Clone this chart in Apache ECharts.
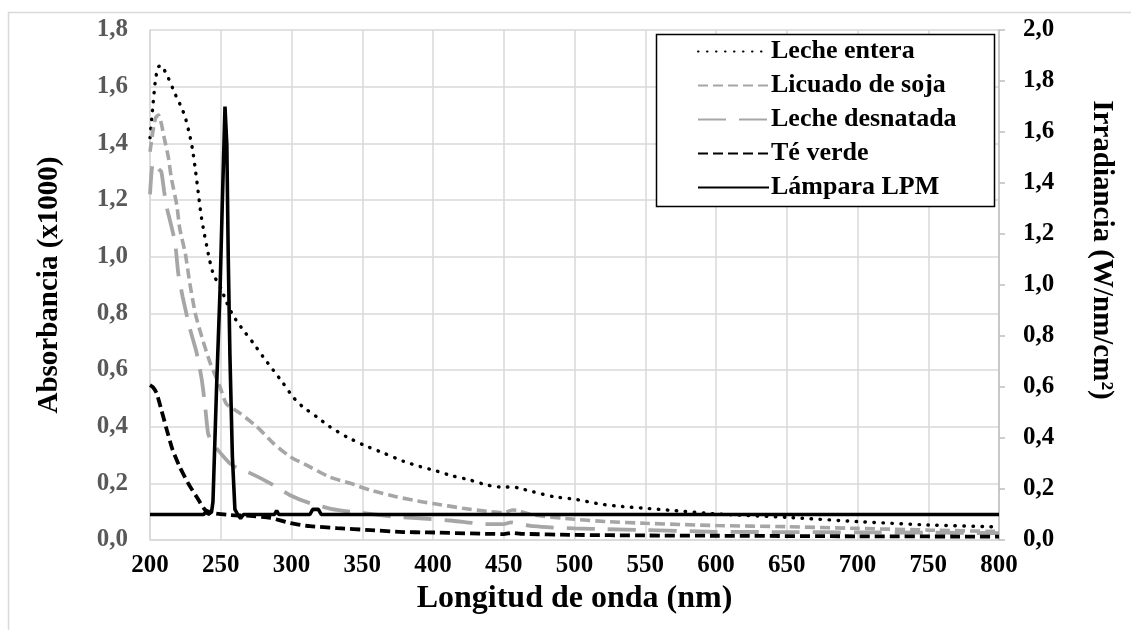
<!DOCTYPE html>
<html>
<head>
<meta charset="utf-8">
<script src="https://cdn.jsdelivr.net/npm/echarts/dist/echarts.min.js"></script>
<style>
  html, body { margin: 0; padding: 0; background: #fff; }
  #chart { width: 1131px; height: 630px; }
</style>
</head>
<body>
<div id="chart"></div>
<script>
// wavelengths (nm) and absorbance (x1000) per sample, lamp irradiance on right axis
const wlEntera = [200, 202, 204, 206, 208, 210, 213, 216, 219, 222, 225, 228, 230, 232, 234, 236, 238, 240, 242, 245, 250, 254, 259, 266, 273, 280, 287, 294, 301, 308, 318, 327, 339, 351, 365, 379, 391, 400, 414, 426, 438, 450, 456, 460, 471, 485, 500, 518, 534, 550, 570, 600, 650, 700, 750, 800];
const absEntera = [1.42, 1.53, 1.63, 1.67, 1.675, 1.66, 1.63, 1.595, 1.56, 1.53, 1.49, 1.43, 1.38, 1.31, 1.23, 1.15, 1.09, 1.04, 0.99, 0.935, 0.89, 0.84, 0.79, 0.74, 0.695, 0.646, 0.60, 0.554, 0.505, 0.47, 0.434, 0.40, 0.364, 0.335, 0.307, 0.278, 0.259, 0.247, 0.226, 0.212, 0.194, 0.186, 0.188, 0.184, 0.17, 0.153, 0.144, 0.127, 0.118, 0.112, 0.104, 0.092, 0.08, 0.065, 0.053, 0.046];

const wlSoja = [200, 202, 204, 206, 208, 210, 213, 215, 219, 221, 225, 228, 232, 236.6, 242.5, 249.5, 254, 263.7, 275.5, 287, 299, 313, 327, 341.5, 355.6, 374.6, 393, 400, 421, 440, 450, 456, 460, 471, 500, 523, 550, 600, 650, 700, 750, 800];
const absSoja = [1.37, 1.44, 1.49, 1.50, 1.47, 1.42, 1.35, 1.28, 1.18, 1.10, 1.01, 0.91, 0.80, 0.717, 0.625, 0.54, 0.48, 0.447, 0.40, 0.342, 0.294, 0.258, 0.222, 0.20, 0.176, 0.152, 0.134, 0.129, 0.112, 0.10, 0.096, 0.106, 0.104, 0.088, 0.073, 0.065, 0.059, 0.051, 0.047, 0.041, 0.035, 0.03];

const wlDesnatada = [200, 202, 204, 206, 208, 210, 212, 214, 217.7, 220, 223, 228, 233, 236.6, 239, 241, 243, 246, 251, 256.6, 263, 270.8, 285, 299, 313, 332, 351, 375, 396, 414, 438, 450, 455, 460, 471, 485, 500, 523, 550, 600, 650, 700, 750, 800];
const absDesnatada = [1.22, 1.33, 1.33, 1.31, 1.30, 1.23, 1.17, 1.13, 1.05, 0.94, 0.86, 0.75, 0.66, 0.565, 0.47, 0.377, 0.35, 0.33, 0.30, 0.27, 0.25, 0.236, 0.20, 0.158, 0.13, 0.106, 0.095, 0.081, 0.075, 0.068, 0.056, 0.056, 0.062, 0.057, 0.049, 0.044, 0.041, 0.038, 0.035, 0.029, 0.028, 0.027, 0.026, 0.024];

const wlTe = [200, 202, 204.7, 208, 211.8, 216, 221, 227, 233, 239, 244.6, 256.6, 270.8, 285, 299, 313, 332, 355.6, 379, 396, 450, 456, 462, 500, 550, 600, 700, 800];
const absTe = [0.547, 0.54, 0.518, 0.46, 0.39, 0.318, 0.258, 0.20, 0.152, 0.106, 0.095, 0.088, 0.085, 0.078, 0.06, 0.049, 0.042, 0.035, 0.028, 0.027, 0.021, 0.025, 0.022, 0.018, 0.016, 0.015, 0.013, 0.012];

const wlLampara = [200, 238, 240, 241, 243.5, 244.5, 247, 249.5, 251, 253, 254.3, 255.3, 256.5, 258.2, 260, 262, 264, 266, 288, 289.5, 291, 313, 315, 319, 321, 800];
const irrLampara = [0.1, 0.1, 0.115, 0.1, 0.11, 0.15, 0.59, 0.98, 1.3, 1.70, 1.55, 1.11, 0.72, 0.33, 0.12, 0.1, 0.085, 0.1, 0.1, 0.115, 0.1, 0.1, 0.12, 0.12, 0.1, 0.1];

const xTicks = { min: 200, max: 800, step: 50 };
const leftTicks = { min: 0, max: 1.8, step: 0.2 };
const rightTicks = { min: 0, max: 2.0, step: 0.2 };

const names = ['Leche entera', 'Licuado de soja', 'Leche desnatada', 'Té verde', 'Lámpara LPM'];
const colors = ['#000', '#A6A6A6', '#A6A6A6', '#000', '#000'];

const pairs = (xs, ys) => xs.map((x, i) => [x, ys[i]]);
const comma = v => v.toFixed(1).replace('.', ',');
const FONT = '"Liberation Serif", "Times New Roman", serif';

const chart = echarts.init(document.getElementById('chart'));

chart.setOption({
  animation: false,
  backgroundColor: '#fff',
  color: colors,
  grid: { left: 150, right: 132, top: 30, bottom: 90, containLabel: false },
  graphic: [
    {
      type: 'rect', z: 1, silent: true,
      shape: { x: 8.5, y: 12.5, width: 1140, height: 640 },
      style: { fill: 'none', stroke: '#D9D9D9', lineWidth: 1.5 }
    },
    {
      type: 'rect', z: 3, silent: true,
      shape: { x: 656.5, y: 34.5, width: 338, height: 172 },
      style: { fill: '#fff', stroke: '#000', lineWidth: 1.5 }
    }
  ],
  legend: {
    z: 4,
    orient: 'vertical',
    left: 697, top: 38,
    padding: 0,
    itemWidth: 71, itemHeight: 14, itemGap: 7,
    data: names,
    itemStyle: { opacity: 0, borderWidth: 0 },
    textStyle: { fontFamily: FONT, fontWeight: 'bold', fontSize: 26, color: '#000', lineHeight: 27, padding: [0, 0, 0, -3] }
  },
  xAxis: {
    type: 'value',
    min: xTicks.min, max: xTicks.max, interval: xTicks.step,
    name: 'Longitud de onda (nm)',
    nameLocation: 'middle', nameGap: 43,
    nameTextStyle: { fontFamily: FONT, fontWeight: 'bold', fontSize: 32, color: '#000' },
    axisLine: { show: true, lineStyle: { color: '#D9D9D9', width: 1.5 } },
    axisTick: { show: false },
    axisLabel: { fontFamily: FONT, fontWeight: 'bold', fontSize: 25, color: '#000', margin: 13 },
    splitLine: { show: true, lineStyle: { color: '#D9D9D9', width: 1.5 } }
  },
  yAxis: [
    {
      type: 'value', position: 'left',
      min: leftTicks.min, max: leftTicks.max, interval: leftTicks.step,
      name: 'Absorbancia (x1000)',
      nameLocation: 'middle', nameGap: 86, nameRotate: 90,
      nameTextStyle: { fontFamily: FONT, fontWeight: 'bold', fontSize: 29, color: '#000' },
      axisLine: { show: true, lineStyle: { color: '#D9D9D9', width: 1.5 } },
      axisTick: { show: false },
      axisLabel: { fontFamily: FONT, fontWeight: 'bold', fontSize: 25, color: '#595959', margin: 22, formatter: comma },
      splitLine: { show: true, lineStyle: { color: '#D9D9D9', width: 1.5 } }
    },
    {
      type: 'value', position: 'right',
      min: rightTicks.min, max: rightTicks.max, interval: rightTicks.step,
      name: 'Irradiancia (W/nm/cm²)',
      nameLocation: 'middle', nameGap: 88, nameRotate: -90,
      nameTextStyle: { fontFamily: FONT, fontWeight: 'bold', fontSize: 29, color: '#000', padding: [0, 0, 0, -70] },
      axisLine: { show: true, lineStyle: { color: '#BFBFBF', width: 1.5 } },
      axisTick: { show: true, length: 6, lineStyle: { color: '#BFBFBF', width: 1.5 } },
      axisLabel: { fontFamily: FONT, fontWeight: 'bold', fontSize: 25, color: '#000', margin: 24, formatter: comma },
      splitLine: { show: false }
    }
  ],
  series: [
    {
      name: names[0], type: 'line', yAxisIndex: 0, symbol: 'none', smooth: 0.2,
      itemStyle: { color: colors[0] },
      lineStyle: { color: colors[0], width: 3.4, type: [0.5, 8.5], cap: 'round' },
      data: pairs(wlEntera, absEntera)
    },
    {
      name: names[1], type: 'line', yAxisIndex: 0, symbol: 'none', smooth: 0.2,
      itemStyle: { color: colors[1] },
      lineStyle: { color: colors[1], width: 3.6, type: [10, 5] },
      data: pairs(wlSoja, absSoja)
    },
    {
      name: names[2], type: 'line', yAxisIndex: 0, symbol: 'none', smooth: 0.2,
      itemStyle: { color: colors[2] },
      lineStyle: { color: colors[2], width: 3.8, type: [28, 13] },
      data: pairs(wlDesnatada, absDesnatada)
    },
    {
      name: names[3], type: 'line', yAxisIndex: 0, symbol: 'none', smooth: 0.2,
      itemStyle: { color: colors[3] },
      lineStyle: { color: colors[3], width: 3.8, type: [10, 5] },
      data: pairs(wlTe, absTe)
    },
    {
      name: names[4], type: 'line', yAxisIndex: 1, symbol: 'none', smooth: false,
      itemStyle: { color: colors[4] },
      lineStyle: { color: colors[4], width: 3.6, type: 'solid' },
      data: pairs(wlLampara, irrLampara)
    }
  ]
});
</script>
</body>
</html>
